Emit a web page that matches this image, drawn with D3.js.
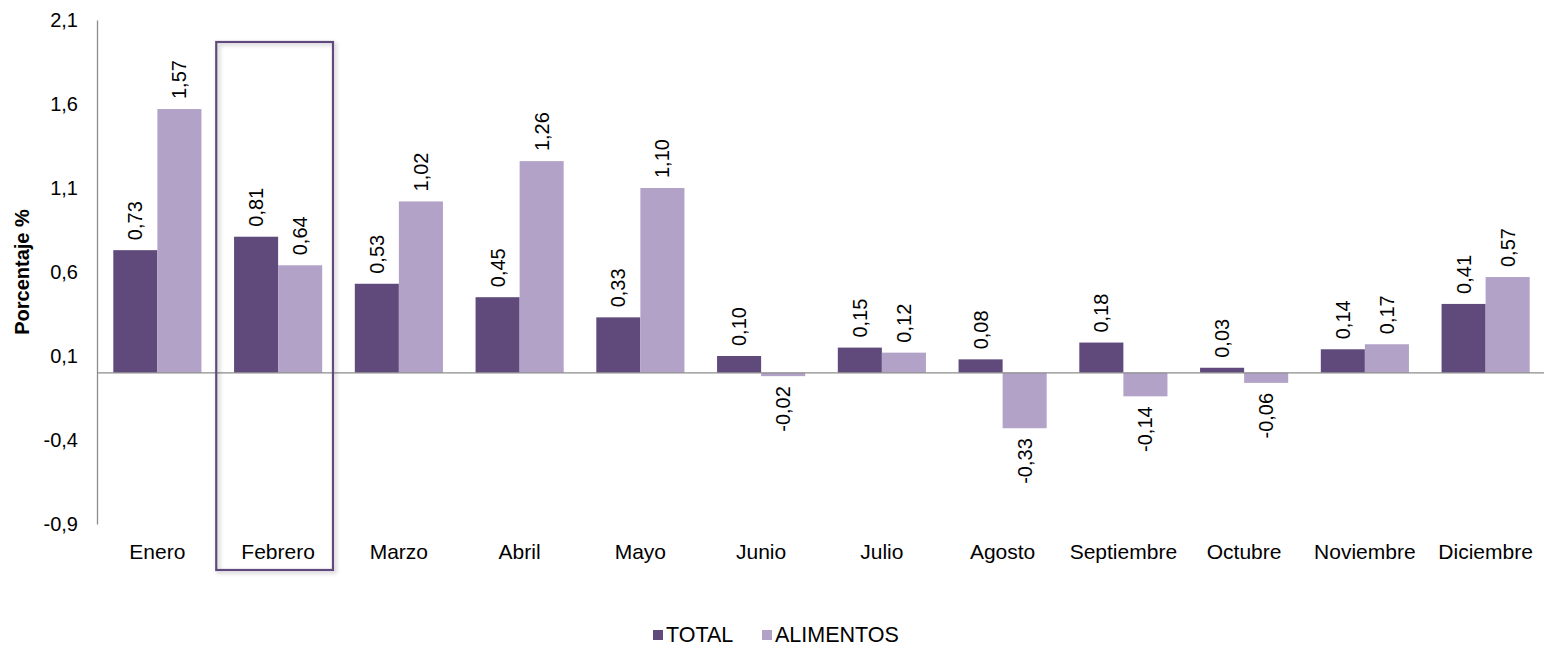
<!DOCTYPE html>
<html>
<head>
<meta charset="utf-8">
<script src="https://cdn.jsdelivr.net/npm/d3@7"></script>
<style>
body { margin: 0; background: #fff; }
text { font-family: "Liberation Sans", Arial, sans-serif; }
</style>
</head>
<body>
<svg id="chart" width="1544" height="648"></svg>
<script>
// data
var months = ["Enero", "Febrero", "Marzo", "Abril", "Mayo", "Junio", "Julio", "Agosto", "Septiembre", "Octubre", "Noviembre", "Diciembre"];
var total = [0.73, 0.81, 0.53, 0.45, 0.33, 0.10, 0.15, 0.08, 0.18, 0.03, 0.14, 0.41];
var alimentos = [1.57, 0.64, 1.02, 1.26, 1.10, -0.02, 0.12, -0.33, -0.14, -0.06, 0.17, 0.57];
var yTicks = [-0.9, -0.4, 0.1, 0.6, 1.1, 1.6, 2.1];
var seriesNames = ["TOTAL", "ALIMENTOS"];
var highlight = "Febrero";

var colors = ["#604a7b", "#b3a2c7"];
var svg = d3.select("#chart");
var plotLeft = 97, plotRight = 1546, plotTop = 20, plotBottom = 524;
var fs = 20;

var x = d3.scaleBand().domain(months).range([plotLeft, plotRight]);
var x1 = d3.scaleBand().domain(seriesNames).range([0, x.bandwidth()]).paddingInner(0).paddingOuter(0.37);
var y = d3.scaleLinear().domain([-0.9, 2.1]).range([plotBottom, plotTop]);
var fmt = function(v) { return d3.format(".2f")(v).replace(".", ",").replace("−", "-"); };

// shadow for highlight box
var defs = svg.append("defs");
var f = defs.append("filter").attr("id", "shadow").attr("x", "-10%").attr("y", "-10%").attr("width", "120%").attr("height", "120%");
f.append("feDropShadow").attr("dx", 2).attr("dy", 2).attr("stdDeviation", 2).attr("flood-color", "#000").attr("flood-opacity", 0.25);

// y axis
var yAxis = svg.append("g").attr("transform", "translate(" + plotLeft + ",0)")
    .call(d3.axisLeft(y).tickValues(yTicks).tickSize(0).tickPadding(19).tickFormat(function(d) { return String(d).replace(".", ","); }));
yAxis.select(".domain").attr("stroke", "#8c8c8c").attr("stroke-width", 1.3);
yAxis.selectAll("text").attr("font-size", fs).attr("fill", "#000")
    .attr("font-family", "Liberation Sans, Arial, sans-serif");

svg.append("text")
    .attr("transform", "translate(29," + 272 + ") rotate(-90)")
    .attr("text-anchor", "middle")
    .attr("font-size", 20).attr("font-weight", "bold")
    .text("Porcentaje %");

// bars
var data = [total, alimentos];
var groups = svg.selectAll("g.series").data(data).enter().append("g").attr("class", "series");
groups.each(function(vals, si) {
    var g = d3.select(this);
    g.selectAll("rect").data(vals).enter().append("rect")
        .attr("x", function(d, i) { return x(months[i]) + x1(seriesNames[si]); })
        .attr("y", function(d) { return y(Math.max(0, d)); })
        .attr("width", x1.bandwidth())
        .attr("height", function(d) { return Math.abs(y(d) - y(0)); })
        .attr("fill", colors[si]);

    g.selectAll("text").data(vals).enter().append("text")
        .attr("transform", function(d, i) {
            var cx = x(months[i]) + x1(seriesNames[si]) + x1.bandwidth() / 2 + 7;
            var cy = d >= 0 ? y(d) - 10 : y(d) + 10;
            return "translate(" + cx + "," + cy + ") rotate(-90)";
        })
        .attr("text-anchor", function(d) { return d >= 0 ? "start" : "end"; })
        .attr("font-size", fs)
        .attr("fill", "#000")
        .text(function(d) { return fmt(d); });
});

// x axis (at zero)
svg.append("line")
    .attr("x1", plotLeft).attr("x2", plotRight)
    .attr("y1", y(0)).attr("y2", y(0))
    .attr("stroke", "#8c8c8c").attr("stroke-width", 1.3);

svg.selectAll("text.month").data(months).enter().append("text")
    .attr("class", "month")
    .attr("x", function(d) { return x(d) + x.bandwidth() / 2; })
    .attr("y", 559)
    .attr("text-anchor", "middle")
    .attr("font-size", 21)
    .text(function(d) { return d; });

// highlight box
svg.append("rect")
    .attr("x", x(highlight) - 1.5)
    .attr("y", 42)
    .attr("width", x.bandwidth() - 4)
    .attr("height", 528)
    .attr("fill", "none")
    .attr("stroke", "#604a7b")
    .attr("stroke-width", 2.2)
    .attr("filter", "url(#shadow)");

// legend
var legend = svg.append("g").attr("transform", "translate(653,642)");
var lx = [0, 109];
seriesNames.forEach(function(n, i) {
    legend.append("rect").attr("x", lx[i]).attr("y", -12).attr("width", 10).attr("height", 10).attr("fill", colors[i]);
    legend.append("text").attr("x", lx[i] + 13).attr("y", 0).attr("font-size", 21.5).text(n);
});
</script>
</body>
</html>
